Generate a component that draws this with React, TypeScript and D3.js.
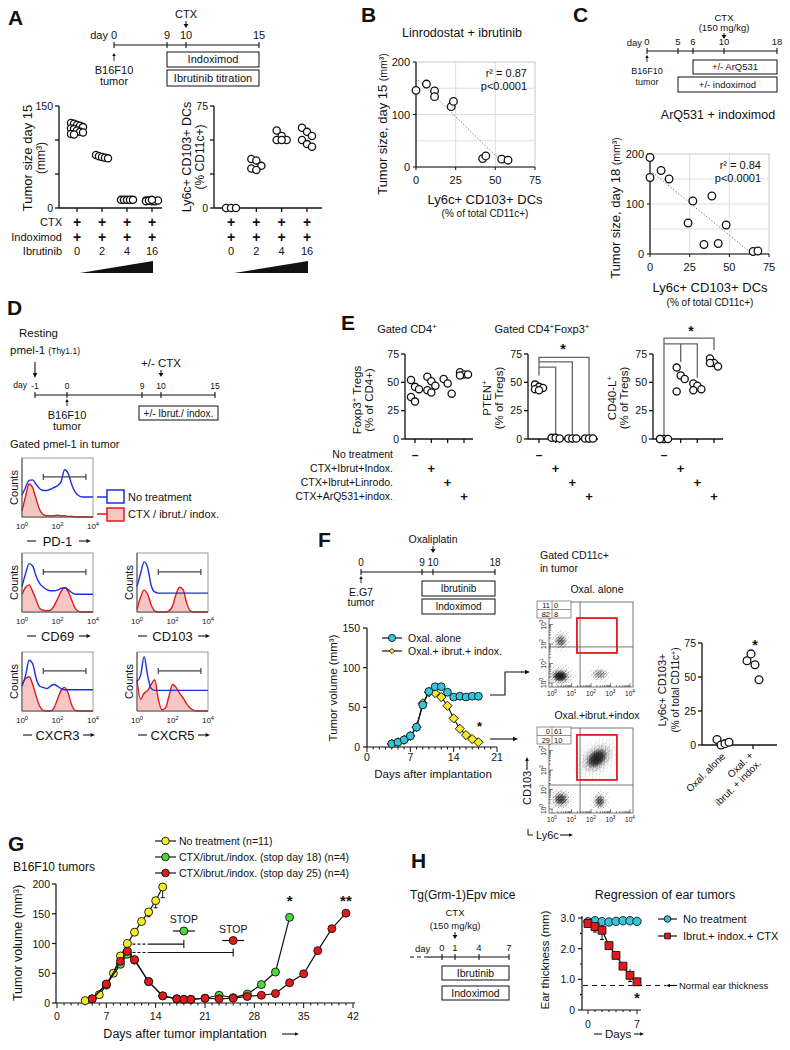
import * as d3 from 'd3'

const FONT = 'Liberation Sans, Arial, Helvetica, sans-serif'
const INK = '#111'
const BLUE = '#1d2fe0'
const RED = '#e3191c'
const PINK = '#f6c6c4'
const CYAN = '#35c6dd'
const YELLOW = '#f6ec25'
const GREEN = '#46d83c'

// ---------- A: ibrutinib titration ----------
const timelineA = [0, 9, 10, 15]
const ibrutinibDoses = ['0', '2', '4', '16']
const treatmentRowsA = ['CTX', 'Indoximod', 'Ibrutinib']
const tumorSizeDay15 = [
  [125, 124, 122, 121, 119, 117, 116, 114, 112, 111, 109, 108],
  [78, 76, 75, 74, 73],
  [12, 12, 12, 12, 12],
  [11, 11, 10, 10, 11, 10, 11, 12],
]
const dcPercentA = [
  [0, 0, 0],
  [36, 35, 31, 29, 28],
  [57, 53, 50, 50, 50],
  [59, 56, 53, 50, 47, 45],
]

// ---------- B: linrodostat + ibrutinib ----------
const linroDC = [0, 6.6, 11.7, 11.7, 22.2, 23.6, 42, 44, 54, 58]
const linroTumor = [146, 158, 145, 134, 115, 125, 16, 21, 15, 13]

// ---------- C: ArQ531 + indoximod ----------
const timelineC = [0, 5, 6, 10, 18]
const arqDC = [0, 0, 7, 12, 27, 39, 24, 48, 34, 43, 65, 68]
const arqTumor = [193, 153, 167, 150, 106, 116, 62, 58, 19, 21, 5, 6]

// ---------- D: pmel-1 histograms ----------
const timelineD = [-1, 0, 9, 10, 15]
const histBins = [0, 0.2, 0.4, 0.6, 0.8, 1, 1.2, 1.4, 1.6, 1.8, 2, 2.2, 2.4, 2.6, 2.8, 3, 3.2, 3.4, 3.6, 3.8, 4]
const histMarkers = ['PD-1', 'CD69', 'CD103', 'CXCR3', 'CXCR5']
const pd1Blue = [0.37, 0.5, 0.62, 0.63, 0.55, 0.48, 0.45, 0.45, 0.47, 0.5, 0.53, 0.6, 0.8, 0.74, 0.55, 0.42, 0.36, 0.34, 0.34, 0.34, 0.34]
const pd1Red = [0.1, 0.35, 0.56, 0.5, 0.3, 0.12, 0.04, 0.02, 0.02, 0.02, 0.03, 0.02, 0.02, 0.01, 0.01, 0, 0, 0, 0, 0, 0]
const cd69Blue = [0.43, 0.65, 0.82, 0.78, 0.6, 0.48, 0.42, 0.38, 0.36, 0.36, 0.37, 0.4, 0.41, 0.38, 0.33, 0.3, 0.3, 0.3, 0.3, 0.3, 0.3]
const cd69Red = [0.3, 0.42, 0.46, 0.35, 0.2, 0.06, 0.03, 0.02, 0.03, 0.1, 0.22, 0.35, 0.41, 0.35, 0.2, 0.06, 0.01, 0, 0, 0, 0]
const cd103Blue = [0.43, 0.65, 0.85, 0.75, 0.45, 0.34, 0.32, 0.32, 0.32, 0.32, 0.32, 0.32, 0.32, 0.32, 0.32, 0.32, 0.32, 0.32, 0.32, 0.32, 0.32]
const cd103Red = [0.05, 0.25, 0.37, 0.3, 0.12, 0.02, 0, 0, 0, 0.02, 0.1, 0.3, 0.42, 0.38, 0.15, 0.02, 0, 0, 0, 0, 0]
const cxcr3Blue = [0.42, 0.6, 0.86, 0.8, 0.55, 0.42, 0.4, 0.38, 0.42, 0.45, 0.42, 0.38, 0.36, 0.36, 0.36, 0.36, 0.36, 0.36, 0.36, 0.36, 0.36]
const cxcr3Red = [0.45, 0.55, 0.58, 0.45, 0.25, 0.08, 0.01, 0, 0, 0.05, 0.2, 0.35, 0.4, 0.3, 0.1, 0.01, 0, 0, 0, 0, 0]
const cxcr5Blue = [0.5, 0.6, 0.92, 0.6, 0.38, 0.35, 0.35, 0.35, 0.35, 0.35, 0.35, 0.35, 0.35, 0.35, 0.35, 0.35, 0.35, 0.35, 0.35, 0.35, 0.35]
const cxcr5Red = [0.53, 0.2, 0.3, 0.35, 0.45, 0.53, 0.2, 0.02, 0.05, 0.25, 0.45, 0.4, 0.3, 0.22, 0.12, 0.05, 0.01, 0, 0, 0, 0]
const histBlue = [pd1Blue, cd69Blue, cd103Blue, cxcr3Blue, cxcr5Blue]
const histRed = [pd1Red, cd69Red, cd103Red, cxcr3Red, cxcr5Red]
const histGate = [1.2, 3.6]

// ---------- E: Treg phenotypes ----------
const treatmentsE = ['No treatment', 'CTX+Ibrut+Indox.', 'CTX+Ibrut+Linrodo.', 'CTX+ArQ531+indox.']
const foxp3Tregs = [[52, 46, 44, 37, 33], [55, 51, 47, 43, 41], [53, 49, 40], [59, 57, 57, 56]]
const ptenTregs = [[48, 46, 45, 44, 43], [1, 1, 0.5], [0.5, 0.5, 0.5], [0.5, 0.5, 0.5]]
const cd40lTregs = [[0, 0, 0, 0], [63, 56, 53, 42], [49, 47, 44, 43], [71, 67, 64, 67]]

// ---------- F: E.G7 oxaliplatin ----------
const timelineF = [0, 9, 10, 18]
const oxalDays = [4, 5, 6, 7, 8, 9, 10, 11, 12, 13, 14, 15, 16, 17, 18]
const oxalAlone = [4, 6, 9, 14, 25, 53, 70, 76, 76, 69, 63, 64, 63, 64, 64]
const oxalCombo = [4, 6, 9, 14, 25, 55, 69, 68, 63, 52, 36, 23, 15, 10, 6]
const quadAlone = ['11', '0', '82', '8']
const quadCombo = ['0', '61', '29', '10']
// clusters: Ly6c decade, CD103 decade, radii (decades), angle, density
const clustersAlone = [
  { ly6c: 0.45, cd103: 2.15, rx: 0.38, ry: 0.42, angle: 0, dens: 0.9, core: 0.45 },
  { ly6c: 0.42, cd103: 0.35, rx: 0.6, ry: 0.45, angle: 0, dens: 1, core: 1 },
  { ly6c: 2.45, cd103: 0.45, rx: 0.45, ry: 0.32, angle: 0, dens: 0.75, core: 0.25 },
]
const clustersCombo = [
  { ly6c: 2.3, cd103: 2.6, rx: 0.95, ry: 0.65, angle: -40, dens: 1, core: 0.95 },
  { ly6c: 0.45, cd103: 0.5, rx: 0.5, ry: 0.47, angle: 0, dens: 1, core: 0.7 },
  { ly6c: 2.45, cd103: 0.4, rx: 0.36, ry: 0.44, angle: 0, dens: 0.9, core: 0.6 },
]
const gateAlone = [1.28, 3.33, 1.54, 3.33]
const gateCombo = [1.28, 3.33, 1.49, 3.8]
const quadLinesAlone = [1.44, 1.85]
const quadLinesCombo = [1.44, 1.23]
const dcGroupsF = ['Oxal. alone', 'Oxal. + ibrut. + indox.']
const dcOxal = [[4, 0, 1, 2], [62, 67, 59, 48]]

// ---------- G: B16F10 regrowth ----------
const noTreatDays = [4, 6, 7, 8, 9, 10, 11, 12, 13, 14, 15]
const noTreatVol = [4, 14, 30, 50, 79, 100, 119, 137, 153, 172, 195]
const noTreatErr = [0, 0, 0, 0, 0, 0, 0, 0, 8, 12, 18]
const stop18Days = [5, 7, 9, 10, 11, 13, 15, 17, 18, 19, 21, 23, 25, 27, 29, 31, 33]
const stop18Vol = [7, 31, 65, 82, 72, 36, 12, 7, 6, 6, 8, 13, 9, 15, 31, 52, 144]
const stop25Days = [5, 7, 9, 10, 11, 13, 15, 17, 18, 19, 21, 23, 25, 27, 29, 31, 33, 35, 37, 39, 41]
const stop25Vol = [7, 32, 70, 87, 73, 36, 12, 7, 6, 6, 8, 7, 8, 11, 13, 16, 34, 49, 88, 125, 151]
const stopDays = [18, 25]
const stopMarkerVol = [121, 105]
const stopBracketVol = [99, 85]

// ---------- H: ear tumors ----------
const timelineH = [0, 1, 4, 7]
const earDays = [0, 1, 2, 3, 4, 5, 6, 7]
const earNoTreat = [2.88, 2.91, 2.88, 2.87, 2.89, 2.91, 2.91, 2.89]
const earCombo = [2.82, 2.72, 2.6, 2.1, 1.78, 1.43, 1.13, 0.92]
const earComboErr = [0.1, 0.18, 0.3, 0.08, 0.1, 0.08, 0.2, 0.1]
const normalEar = 0.8

// ---------- helpers ----------
function Letter({ x, y, t }: any) {
  return <text x={x} y={y} fontSize={21} fontWeight="bold">{t}</text>
}

function VLabel({ cx, cy, fs = 12, children }: any) {
  return (
    <text transform={`translate(${cx + fs * 0.35},${cy}) rotate(-90)`} textAnchor="middle" fontSize={fs}>
      {children}
    </text>
  )
}

function DownArrow({ x, y1, y2 }: any) {
  return (
    <g>
      <line x1={x} x2={x} y1={y1} y2={y2 - 3} stroke={INK} strokeWidth={1} />
      <path d={`M${x - 2.5},${y2 - 4}L${x + 2.5},${y2 - 4}L${x},${y2}Z`} fill={INK} />
    </g>
  )
}

function UpArrow({ x, y1, y2 }: any) {
  return (
    <g>
      <line x1={x} x2={x} y1={y1} y2={y2 + 2} stroke={INK} strokeWidth={0.9} />
      <path d={`M${x - 1.8},${y2 + 3}L${x + 1.8},${y2 + 3}L${x},${y2}Z`} fill={INK} />
    </g>
  )
}

function ArrowLine({ x1, y1, x2, y2, head = 5, sw = 1.1 }: any) {
  const a = Math.atan2(y2 - y1, x2 - x1)
  const bx = x2 - head * Math.cos(a)
  const by = y2 - head * Math.sin(a)
  const px = (head / 2.2) * Math.sin(a)
  const py = (head / 2.2) * Math.cos(a)
  return (
    <g>
      <line x1={x1} y1={y1} x2={bx} y2={by} stroke={INK} strokeWidth={sw} />
      <path d={`M${x2},${y2}L${bx + px},${by - py}L${bx - px},${by + py}Z`} fill={INK} />
    </g>
  )
}

function Box({ x1, x2, y, h, label, fs = 11 }: any) {
  return (
    <g>
      <rect x={x1} y={y} width={x2 - x1} height={h} fill="#fff" stroke={INK} strokeWidth={1} />
      <text x={(x1 + x2) / 2} y={y + h / 2 + fs * 0.36} textAnchor="middle" fontSize={fs}>{label}</text>
    </g>
  )
}

function Timeline({ scale, days, y, fs = 11, tick = 3, dayLabel = true }: any) {
  const lo = d3.min(days) as number
  const hi = d3.max(days) as number
  return (
    <g>
      <line x1={scale(lo)} x2={scale(hi)} y1={y} y2={y} stroke={INK} strokeWidth={1.1} />
      {days.map((d: number) => (
        <g key={d}>
          <line x1={scale(d)} x2={scale(d)} y1={y - tick} y2={y + tick} stroke={INK} strokeWidth={1.1} />
          {dayLabel && <text x={scale(d)} y={y - 6} textAnchor="middle" fontSize={fs}>{d}</text>}
        </g>
      ))}
    </g>
  )
}

function DotPlot({ axisX, xEnd, y, ticks, labels, gx, groups, data, r = 3.6, spread = 4, cols = 3, fs = 10.5 }: any) {
  const [bottom, top] = y.range()
  return (
    <g>
      <line x1={axisX} x2={axisX} y1={top} y2={bottom} stroke={INK} strokeWidth={1.3} />
      <line x1={axisX} x2={xEnd} y1={bottom} y2={bottom} stroke={INK} strokeWidth={1.3} />
      {ticks.map((t: number) => (
        <line key={t} x1={axisX - 4} x2={axisX} y1={y(t)} y2={y(t)} stroke={INK} strokeWidth={1.3} />
      ))}
      {labels.map((t: number) => (
        <text key={t} x={axisX - 6} y={y(t) + fs * 0.36} textAnchor="end" fontSize={fs}>{t}</text>
      ))}
      {groups.map((g: string) => (
        <line key={g} x1={gx(g)} x2={gx(g)} y1={bottom} y2={bottom + 4} stroke={INK} strokeWidth={1.3} />
      ))}
      {data.map((vals: number[], gi: number) =>
        vals.map((v, i) => (
          <circle
            key={`${gi}-${i}`}
            cx={gx(groups[gi]) + ((i % cols) - (cols - 1) / 2) * spread}
            cy={y(v)}
            r={r}
            fill="#fff"
            stroke={INK}
            strokeWidth={1.3}
          />
        ))
      )}
    </g>
  )
}

function fitLine(xs: number[], ys: number[]) {
  const mx = d3.mean(xs) as number
  const my = d3.mean(ys) as number
  const sxy = d3.sum(xs.map((x, i) => (x - mx) * (ys[i] - my)))
  const sxx = d3.sum(xs.map((x) => (x - mx) ** 2))
  const b = sxy / sxx
  return { a: my - b * mx, b }
}

function Scatter({ x, y, xs, ys, xTicks, yTicks, r2 }: any) {
  const [l, rr] = x.range()
  const [b, t] = y.range()
  const fit = fitLine(xs, ys)
  const xZero = -fit.a / fit.b
  return (
    <g>
      <rect x={l} y={t} width={rr - l} height={b - t} fill="none" stroke="#c8c8c8" />
      {[25, 50].map((v) => <line key={v} x1={x(v)} x2={x(v)} y1={t} y2={b} stroke="#dedede" />)}
      {[50, 100, 150].map((v) => <line key={v} x1={l} x2={rr} y1={y(v)} y2={y(v)} stroke="#dedede" />)}
      <line x1={l} x2={l} y1={t} y2={b} stroke={INK} strokeWidth={1.2} />
      <line x1={l} x2={rr} y1={b} y2={b} stroke={INK} strokeWidth={1.2} />
      {yTicks.map((v: number) => (
        <g key={v}>
          <line x1={l - 3} x2={l} y1={y(v)} y2={y(v)} stroke={INK} />
          <text x={l - 6} y={y(v) + 4} textAnchor="end" fontSize={11}>{v}</text>
        </g>
      ))}
      {xTicks.map((v: number) => (
        <g key={v}>
          <line x1={x(v)} x2={x(v)} y1={b} y2={b + 3} stroke={INK} />
          <text x={x(v)} y={b + 17} textAnchor="middle" fontSize={11}>{v}</text>
        </g>
      ))}
      <line x1={x(0)} y1={y(fit.a)} x2={x(xZero)} y2={y(0)} stroke="#777" strokeWidth={1} strokeDasharray="1.3,2" />
      {xs.map((v: number, i: number) => (
        <circle key={i} cx={x(v)} cy={y(ys[i])} r={3.8} fill="#fff" stroke={INK} strokeWidth={1.3} />
      ))}
      <text x={rr - 8} y={t + 15} textAnchor="end" fontSize={11}>r² = {r2}</text>
      <text x={rr - 8} y={t + 28} textAnchor="end" fontSize={11}>p&lt;0.0001</text>
    </g>
  )
}

function Pow({ x, y, e, fs = 8, anchor = 'middle', transform }: any) {
  return (
    <text x={x} y={y} fontSize={fs} textAnchor={anchor} transform={transform}>
      10<tspan dy={-3} fontSize={fs * 0.72}>{e}</tspan>
    </text>
  )
}

// ---------- panels ----------
function PanelA() {
  const tl = d3.scaleLinear().domain([0, 9, 10, 15]).range([114, 167, 186, 259])
  const yL = d3.scaleLinear().domain([0, 150]).range([208, 106])
  const yR = d3.scaleLinear().domain([0, 75]).range([208, 106])
  const xL = d3.scalePoint().domain(ibrutinibDoses).range([77, 152])
  const xR = d3.scalePoint().domain(ibrutinibDoses).range([231, 307])
  const rowY = [226, 241, 255]
  const rows = (gx: any) =>
    ibrutinibDoses.map((d) => (
      <g key={d}>
        <text x={gx(d)} y={rowY[0] + 1} textAnchor="middle" fontSize={14} fontWeight="bold">+</text>
        <text x={gx(d)} y={rowY[1] + 1} textAnchor="middle" fontSize={14} fontWeight="bold">+</text>
        <text x={gx(d)} y={rowY[2]} textAnchor="middle" fontSize={11}>{d}</text>
      </g>
    ))
  const wedge = (gx: any) => {
    const a = gx(ibrutinibDoses[0]) + 3
    const b = gx(ibrutinibDoses[3]) + 1
    return <path d={`M${a},273L${b},261L${b},273Z`} fill={INK} />
  }
  return (
    <g>
      <Letter x={8} y={25} t="A" />
      <text x={tl(10)} y={18} textAnchor="middle" fontSize={11}>CTX</text>
      <DownArrow x={tl(10)} y1={21} y2={28} />
      <text x={tl(0) - 6} y={39} textAnchor="end" fontSize={11}>day</text>
      <Timeline scale={tl} days={timelineA} y={45} />
      <UpArrow x={tl(0)} y1={61} y2={53} />
      <text x={tl(0)} y={74} textAnchor="middle" fontSize={11}>B16F10</text>
      <text x={tl(0)} y={85} textAnchor="middle" fontSize={11}>tumor</text>
      <Box x1={tl(9)} x2={tl(15)} y={52} h={15} label="Indoximod" />
      <Box x1={tl(9)} x2={tl(15)} y={70} h={16} label="Ibrutinib titration" />

      <DotPlot axisX={59} xEnd={162} y={yL} ticks={[0, 50, 100, 150]} labels={[0, 150]} gx={xL} groups={ibrutinibDoses} data={tumorSizeDay15} cols={5} spread={3} />
      <VLabel cx={27} cy={158} fs={13}>Tumor size day 15</VLabel>
      <VLabel cx={41} cy={158} fs={12}>(mm³)</VLabel>
      {treatmentRowsA.map((t, i) => (
        <text key={t} x={62} y={rowY[i]} textAnchor="end" fontSize={11}>{t}</text>
      ))}
      {rows(xL)}
      {wedge(xL)}

      <DotPlot axisX={214} xEnd={322} y={yR} ticks={[0, 25, 50, 75]} labels={[0, 75]} gx={xR} groups={ibrutinibDoses} data={dcPercentA} cols={3} spread={5} />
      <VLabel cx={187} cy={157} fs={12.5}>Ly6c+ CD103+ DCs</VLabel>
      <VLabel cx={200} cy={157} fs={12}>(% CD11c+)</VLabel>
      {rows(xR)}
      {wedge(xR)}
    </g>
  )
}

function PanelB() {
  const x = d3.scaleLinear().domain([0, 75]).range([416, 535])
  const y = d3.scaleLinear().domain([0, 200]).range([167, 62])
  return (
    <g>
      <Letter x={361} y={22} t="B" />
      <text x={462} y={37} textAnchor="middle" fontSize={12.5}>Linrodostat + ibrutinib</text>
      <Scatter x={x} y={y} xs={linroDC} ys={linroTumor} xTicks={[0, 25, 50, 75]} yTicks={[0, 100, 200]} r2="0.87" />
      <text transform="translate(387,124) rotate(-90)" textAnchor="middle" fontSize={13}>
        Tumor size, day 15 <tspan fontSize={10.5}>(mm³)</tspan>
      </text>
      <text x={485} y={204} textAnchor="middle" fontSize={13}>Ly6c+ CD103+ DCs</text>
      <text x={485} y={217} textAnchor="middle" fontSize={10}>(% of total CD11c+)</text>
    </g>
  )
}

function PanelC() {
  const tl = d3.scaleLinear().domain(timelineC).range([647, 678, 693, 724, 777])
  const x = d3.scaleLinear().domain([0, 75]).range([650, 769])
  const y = d3.scaleLinear().domain([0, 200]).range([254, 154])
  return (
    <g>
      <Letter x={573} y={22} t="C" />
      <text x={tl(10)} y={21} textAnchor="middle" fontSize={9.5}>CTX</text>
      <text x={tl(10)} y={31} textAnchor="middle" fontSize={9.5}>(150 mg/kg)</text>
      <DownArrow x={tl(10)} y1={33} y2={39} />
      <text x={tl(0) - 5} y={46} textAnchor="end" fontSize={9.5}>day</text>
      <Timeline scale={tl} days={timelineC} y={51} fs={9.5} />
      <UpArrow x={tl(0)} y1={62} y2={55} />
      <text x={tl(0)} y={74} textAnchor="middle" fontSize={9}>B16F10</text>
      <text x={tl(0)} y={85} textAnchor="middle" fontSize={9}>tumor</text>
      <Box x1={tl(6)} x2={tl(18)} y={60} h={14} label="+/- ArQ531" fs={9.5} />
      <Box x1={tl(5)} x2={tl(18)} y={77} h={15} label="+/- indoximod" fs={9.5} />
      <text x={718} y={119} textAnchor="middle" fontSize={12.5}>ArQ531 + indoximod</text>
      <Scatter x={x} y={y} xs={arqDC} ys={arqTumor} xTicks={[0, 25, 50, 75]} yTicks={[0, 100, 200]} r2="0.84" />
      <text transform="translate(620,208) rotate(-90)" textAnchor="middle" fontSize={13}>
        Tumor size, day 18 <tspan fontSize={10.5}>(mm³)</tspan>
      </text>
      <text x={710} y={292} textAnchor="middle" fontSize={13}>Ly6c+ CD103+ DCs</text>
      <text x={710} y={306} textAnchor="middle" fontSize={10}>(% of total CD11c+)</text>
    </g>
  )
}

function Histogram({ x, y, w, h, blue, red, name }: any) {
  const sx = d3.scaleLinear().domain([0, 4]).range([x, x + w])
  const sy = d3.scaleLinear().domain([0, 1]).range([y + h, y])
  const line = d3.line<number>().x((_, i) => sx(histBins[i])).y((v) => sy(v)).curve(d3.curveMonotoneX)
  const area = d3.area<number>().x((_, i) => sx(histBins[i])).y0(y + h).y1((v) => sy(v)).curve(d3.curveMonotoneX)
  const gy = sy(0.68)
  const half = name.length * 4.1
  const cx = x + w / 2
  const ly = y + h + 24
  return (
    <g>
      <rect x={x} y={y} width={w} height={h} fill="#fff" stroke="#9a9a9a" strokeWidth={1} />
      <path d={area(red) as string} fill={PINK} />
      <path d={line(red) as string} fill="none" stroke={RED} strokeWidth={1.4} />
      <path d={line(blue) as string} fill="none" stroke={BLUE} strokeWidth={1.4} />
      <line x1={x} x2={x} y1={y} y2={y + h} stroke="#555" />
      <line x1={x} x2={x + w} y1={y + h} y2={y + h} stroke="#555" />
      <line x1={sx(histGate[0])} x2={sx(histGate[1])} y1={gy} y2={gy} stroke="#444" strokeWidth={1.2} />
      <line x1={sx(histGate[0])} x2={sx(histGate[0])} y1={gy - 3} y2={gy + 3} stroke="#444" strokeWidth={1.2} />
      <line x1={sx(histGate[1])} x2={sx(histGate[1])} y1={gy - 3} y2={gy + 3} stroke="#444" strokeWidth={1.2} />
      {[0, 2, 4].map((e) => <Pow key={e} x={sx(e)} y={y + h + 12} e={e} fs={8} />)}
      <text x={cx} y={ly + 4.5} textAnchor="middle" fontSize={13}>{name}</text>
      <line x1={cx - half - 14} x2={cx - half - 5} y1={ly} y2={ly} stroke={INK} strokeWidth={1.1} />
      <ArrowLine x1={cx + half + 5} y1={ly} x2={cx + half + 17} y2={ly} head={4.5} />
      <VLabel cx={x - 8} cy={y + h / 2} fs={11}>Counts</VLabel>
    </g>
  )
}

function PanelD() {
  const tl = d3.scaleLinear().domain(timelineD).range([35, 67, 142, 161, 215])
  const layout = [
    { x: 22, y: 458 },
    { x: 22, y: 553 },
    { x: 137, y: 553 },
    { x: 22, y: 652 },
    { x: 137, y: 652 },
  ]
  return (
    <g>
      <Letter x={7} y={315} t="D" />
      <text x={19} y={337} fontSize={11.5}>Resting</text>
      <text x={10} y={354} fontSize={11.5}>pmel-1 <tspan fontSize={8.5}>(Thy1.1)</tspan></text>
      <ArrowLine x1={tl(-1)} y1={362} x2={tl(-1)} y2={378} head={5} />
      <text x={tl(10)} y={367} textAnchor="middle" fontSize={11.5}>+/- CTX</text>
      <DownArrow x={tl(10)} y1={370} y2={377} />
      <text x={tl(-1) - 8} y={388} textAnchor="end" fontSize={8.5}>day</text>
      <Timeline scale={tl} days={timelineD} y={395} fs={8.5} />
      <UpArrow x={tl(0)} y1={406} y2={399} />
      <text x={tl(0)} y={419} textAnchor="middle" fontSize={11}>B16F10</text>
      <text x={tl(0)} y={430} textAnchor="middle" fontSize={11}>tumor</text>
      <Box x1={139} x2={218} y={406} h={14} label="+/- Ibrut./ indox." fs={10} />
      <text x={10} y={448} fontSize={11}>Gated pmel-1 in tumor</text>
      {histMarkers.map((m, i) => (
        <Histogram key={m} x={layout[i].x} y={layout[i].y} w={71} h={59} blue={histBlue[i]} red={histRed[i]} name={m} />
      ))}
      <line x1={97} x2={107} y1={497} y2={497} stroke={BLUE} strokeWidth={1.5} />
      <rect x={107} y={490} width={17} height={13} fill="#fff" stroke={BLUE} strokeWidth={1.5} />
      <text x={128} y={501} fontSize={11}>No treatment</text>
      <line x1={97} x2={107} y1={514} y2={514} stroke={RED} strokeWidth={1.5} />
      <rect x={107} y={508} width={17} height={13} fill={PINK} stroke={RED} strokeWidth={1.5} />
      <text x={128} y={518} fontSize={11}>CTX / ibrut./ indox.</text>
    </g>
  )
}

function PanelE() {
  const y = d3.scaleLinear().domain([0, 75]).range([439, 354])
  const x1 = d3.scalePoint().domain(treatmentsE).range([415, 464])
  const x2 = d3.scalePoint().domain(treatmentsE).range([539, 589])
  const x3 = d3.scalePoint().domain(treatmentsE).range([664, 714])
  const rowY = [458, 472, 486, 500]
  const marks = (gx: any) =>
    treatmentsE.map((t, i) => (
      <text key={t} x={gx(t)} y={rowY[i] + 1} textAnchor="middle" fontSize={i === 0 ? 12 : 13} fontWeight="bold">
        {i === 0 ? '–' : '+'}
      </text>
    ))
  const br = { stroke: '#666', strokeWidth: 1.3, fill: 'none' }
  const g2 = (i: number) => x2(treatmentsE[i]) as number
  const g3 = (i: number) => x3(treatmentsE[i]) as number
  const tk = [0, 25, 50, 75]
  return (
    <g>
      <Letter x={341} y={330} t="E" />
      <text x={407} y={333} textAnchor="middle" fontSize={11}>Gated CD4<tspan dy={-4} fontSize={8}>+</tspan></text>
      <text x={542} y={333} textAnchor="middle" fontSize={11}>
        Gated CD4<tspan dy={-4} fontSize={8}>+</tspan><tspan dy={4}>Foxp3</tspan><tspan dy={-4} fontSize={8}>+</tspan>
      </text>
      {/* significance brackets */}
      <path d={`M${g2(0)},${y(56)}V${y(72)}H${g2(3)}V${y(3)}`} {...br} />
      <path d={`M${g2(0)},${y(68)}H${g2(2)}V${y(3)}`} {...br} />
      <path d={`M${g2(0)},${y(63.5)}H${g2(1)}V${y(3)}`} {...br} />
      <text x={563} y={354} textAnchor="middle" fontSize={14} fontWeight="bold">*</text>
      <path d={`M${g3(0)},${y(3)}V${y(89)}H${g3(3)}V${y(78.5)}`} {...br} />
      <path d={`M${g3(0)},${y(84)}H${g3(2)}V${y(54)}`} {...br} />
      <path d={`M${g3(1)},${y(84)}V${y(68)}`} {...br} />
      <text x={691} y={336} textAnchor="middle" fontSize={14} fontWeight="bold">*</text>

      <DotPlot axisX={405} xEnd={473} y={y} ticks={tk} labels={tk} gx={x1} groups={treatmentsE} data={foxp3Tregs} />
      <DotPlot axisX={528} xEnd={598} y={y} ticks={tk} labels={tk} gx={x2} groups={treatmentsE} data={ptenTregs} />
      <DotPlot axisX={653} xEnd={723} y={y} ticks={tk} labels={tk} gx={x3} groups={treatmentsE} data={cd40lTregs} />
      <VLabel cx={357} cy={400} fs={11.5}>Foxp3<tspan dy={-4} fontSize={8}>+</tspan><tspan dy={4}> Tregs</tspan></VLabel>
      <VLabel cx={369} cy={400} fs={11.5}>(% of CD4+)</VLabel>
      <VLabel cx={487} cy={398} fs={11.5}>PTEN<tspan dy={-4} fontSize={8}>+</tspan></VLabel>
      <VLabel cx={499} cy={398} fs={11.5}>(% of Tregs)</VLabel>
      <VLabel cx={612} cy={398} fs={11.5}>CD40-L<tspan dy={-4} fontSize={8}>+</tspan></VLabel>
      <VLabel cx={624} cy={398} fs={11.5}>(% of Tregs)</VLabel>
      {treatmentsE.map((t, i) => (
        <text key={t} x={393} y={rowY[i]} textAnchor="end" fontSize={10.5}>{t}</text>
      ))}
      {marks(x1)}
      {marks(x2)}
      {marks(x3)}
    </g>
  )
}

function FlowPlot({ x, y, w, h, clusters, quad, gate, lines }: any) {
  const sx = d3.scaleLog().domain([1, 1e4]).range([x + 3, x + w - 3])
  const sy = d3.scaleLog().domain([1, 1e4]).range([y + h - 4, y + 3])
  const ppd = (x + w - 3 - (x + 3)) / 4
  const minor = sx.ticks()
  const bx = x - 12
  const by = y - 1
  return (
    <g>
      <rect x={x} y={y} width={w} height={h} fill="#fff" stroke="#777" />
      {clusters.map((c: any, i: number) => {
        const cx = sx(10 ** c.ly6c)
        const cy = sy(10 ** c.cd103)
        const tr = `rotate(${c.angle},${cx},${cy})`
        return (
          <g key={i}>
            <ellipse cx={cx} cy={cy} rx={c.rx * ppd * 1.6} ry={c.ry * ppd * 1.6} fill="url(#stipSparse)" mask="url(#fadeMask)" opacity={c.dens * 0.8} transform={tr} />
            <ellipse cx={cx} cy={cy} rx={c.rx * ppd} ry={c.ry * ppd} fill="url(#stip)" mask="url(#fadeMask)" opacity={c.dens} transform={tr} />
            <ellipse cx={cx} cy={cy} rx={c.rx * ppd * 0.65} ry={c.ry * ppd * 0.65} fill="#111" mask="url(#fadeMask)" opacity={c.core} transform={tr} />
          </g>
        )
      })}
      <line x1={sx(10 ** lines[0])} x2={sx(10 ** lines[0])} y1={y} y2={y + h} stroke="#666" strokeWidth={0.9} />
      <line x1={x} x2={x + w} y1={sy(10 ** lines[1])} y2={sy(10 ** lines[1])} stroke="#666" strokeWidth={0.9} />
      <rect
        x={sx(10 ** gate[0])}
        y={sy(10 ** gate[3])}
        width={sx(10 ** gate[1]) - sx(10 ** gate[0])}
        height={sy(10 ** gate[2]) - sy(10 ** gate[3])}
        fill="none"
        stroke={RED}
        strokeWidth={1.8}
      />
      {minor.map((t, i) => {
        const major = Math.abs(Math.log10(t) - Math.round(Math.log10(t))) < 1e-6
        return (
          <g key={i}>
            <line x1={sx(t)} x2={sx(t)} y1={y + h} y2={y + h - (major ? 4 : 2)} stroke="#333" strokeWidth={0.6} />
            <line x1={x} x2={x + (major ? 4 : 2)} y1={sy(t)} y2={sy(t)} stroke="#333" strokeWidth={0.6} />
          </g>
        )
      })}
      {[0, 1, 2, 3, 4].map((e) => <Pow key={e} x={sx(10 ** e)} y={y + h + 9} e={e} fs={6.5} />)}
      {[0, 1, 2, 3].map((e) => (
        <Pow key={e} x={0} y={0} e={e} fs={6.5} transform={`translate(${x - 3},${sy(10 ** e)}) rotate(-90)`} />
      ))}
      <rect x={bx} y={by} width={34} height={17} fill="#fff" stroke="#777" strokeWidth={0.8} />
      <line x1={bx + 15} x2={bx + 15} y1={by} y2={by + 17} stroke="#777" strokeWidth={0.8} />
      <line x1={bx} x2={bx + 34} y1={by + 8.5} y2={by + 8.5} stroke="#777" strokeWidth={0.8} />
      <text x={bx + 13} y={by + 7} textAnchor="end" fontSize={7.5}>{quad[0]}</text>
      <text x={bx + 17} y={by + 7} fontSize={7.5}>{quad[1]}</text>
      <text x={bx + 13} y={by + 15.5} textAnchor="end" fontSize={7.5}>{quad[2]}</text>
      <text x={bx + 17} y={by + 15.5} fontSize={7.5}>{quad[3]}</text>
    </g>
  )
}

function PanelF() {
  const tl = d3.scaleLinear().domain(timelineF).range([361, 422, 433, 495])
  const x = d3.scaleLinear().domain([0, 21]).range([367, 497])
  const y = d3.scaleLinear().domain([0, 150]).range([747, 628])
  const line = d3.line<number>().x((_, i) => x(oxalDays[i])).y((v) => y(v))
  const diamond = d3.symbol().type(d3.symbolSquare).size(42)()
  const yd = d3.scaleLinear().domain([0, 75]).range([745, 643])
  const xd = d3.scalePoint().domain(dcGroupsF).range([723, 753])
  return (
    <g>
      <Letter x={318} y={547} t="F" />
      <text x={tl(10)} y={543} textAnchor="middle" fontSize={10.5}>Oxaliplatin</text>
      <DownArrow x={tl(10)} y1={546} y2={553} />
      <Timeline scale={tl} days={timelineF} y={572} fs={10} />
      <UpArrow x={tl(0)} y1={583} y2={576} />
      <text x={tl(0)} y={596} textAnchor="middle" fontSize={10.5}>E.G7</text>
      <text x={tl(0)} y={606} textAnchor="middle" fontSize={10.5}>tumor</text>
      <Box x1={tl(9)} x2={tl(18)} y={581} h={15} label="Ibrutinib" fs={10} />
      <Box x1={tl(9)} x2={tl(18)} y={599} h={15} label="Indoximod" fs={10} />

      <line x1={367} x2={367} y1={628} y2={747} stroke={INK} strokeWidth={1.2} />
      <line x1={367} x2={497} y1={747} y2={747} stroke={INK} strokeWidth={1.2} />
      {[0, 50, 100, 150].map((v) => (
        <g key={v}>
          <line x1={363} x2={367} y1={y(v)} y2={y(v)} stroke={INK} strokeWidth={1.2} />
          <text x={360} y={y(v) + 4} textAnchor="end" fontSize={10.5}>{v}</text>
        </g>
      ))}
      {d3.range(0, 22).map((d) => (
        <line key={d} x1={x(d)} x2={x(d)} y1={747} y2={747 + (d % 7 === 0 ? 5 : 2.5)} stroke={INK} strokeWidth={1} />
      ))}
      {[0, 7, 14, 21].map((d) => (
        <text key={d} x={x(d)} y={761} textAnchor="middle" fontSize={10.5}>{d}</text>
      ))}
      <text x={433} y={778} textAnchor="middle" fontSize={11.5}>Days after implantation</text>
      <VLabel cx={333} cy={688} fs={11.5}>Tumor volume (mm³)</VLabel>

      <path d={line(oxalCombo) as string} fill="none" stroke={INK} strokeWidth={1.2} />
      {oxalCombo.map((v, i) => (
        <path key={i} d={diamond as string} transform={`translate(${x(oxalDays[i])},${y(v)}) rotate(45)`} fill={YELLOW} stroke={INK} strokeWidth={0.9} />
      ))}
      <path d={line(oxalAlone) as string} fill="none" stroke={INK} strokeWidth={1.2} />
      {oxalAlone.map((v, i) => (
        <circle key={i} cx={x(oxalDays[i])} cy={y(v)} r={3.9} fill={CYAN} stroke={INK} strokeWidth={0.9} />
      ))}
      <text x={x(18) + 1} y={y(20)} textAnchor="middle" fontSize={13} fontWeight="bold">*</text>

      <line x1={382} x2={402} y1={638} y2={638} stroke={INK} strokeWidth={1.2} />
      <circle cx={392} cy={638} r={3.6} fill={CYAN} stroke={INK} strokeWidth={0.9} />
      <text x={408} y={642} fontSize={10.5}>Oxal. alone</text>
      <line x1={382} x2={402} y1={651} y2={651} stroke={INK} strokeWidth={1.2} />
      <path d={d3.symbol().type(d3.symbolSquare).size(14)() as string} transform="translate(392,651) rotate(45)" fill={YELLOW} stroke={INK} strokeWidth={0.8} />
      <text x={408} y={655} fontSize={10.5}>Oxal.+ ibrut.+ indox.</text>

      <path d="M490,695H505V672H522" fill="none" stroke={INK} strokeWidth={1.1} />
      <ArrowLine x1={521} y1={672} x2={530} y2={672} head={5} />
      <ArrowLine x1={490} y1={739} x2={518} y2={739} head={5} />

      <text x={540} y={559} fontSize={10.5}>Gated CD11c+</text>
      <text x={540} y={572} fontSize={10.5}>in tumor</text>
      <text x={597} y={593} textAnchor="middle" fontSize={10.5}>Oxal. alone</text>
      <FlowPlot x={549} y={602} w={84} h={85} clusters={clustersAlone} quad={quadAlone} gate={gateAlone} lines={quadLinesAlone} />
      <text x={597} y={719} textAnchor="middle" fontSize={10.5}>Oxal.+ibrut.+indox</text>
      <FlowPlot x={549} y={728} w={84} h={85} clusters={clustersCombo} quad={quadCombo} gate={gateCombo} lines={quadLinesCombo} />
      <path d="M528,829V835H533" fill="none" stroke={INK} strokeWidth={1} />
      <text x={536} y={839} fontSize={11}>Ly6c</text>
      <ArrowLine x1={560} y1={835} x2={573} y2={835} head={4} />
      <text transform="translate(531,805) rotate(-90)" fontSize={11}>CD103</text>
      <ArrowLine x1={527} y1={770} x2={527} y2={757} head={4} />

      <DotPlot axisX={702} xEnd={777} y={yd} ticks={[0, 25, 50, 75]} labels={[0, 25, 50, 75]} gx={xd} groups={dcGroupsF} data={dcOxal} cols={4} spread={4} r={3.9} />
      <text x={755} y={650} textAnchor="middle" fontSize={14} fontWeight="bold">*</text>
      <VLabel cx={662} cy={690} fs={11}>Ly6c+ CD103+</VLabel>
      <VLabel cx={675} cy={690} fs={10}>
        (% of total CD11c<tspan dy={-3} fontSize={7}>+</tspan><tspan dy={3}>)</tspan>
      </VLabel>
      <text transform="translate(726,757) rotate(-45)" textAnchor="end" fontSize={10}>Oxal. alone</text>
      <text transform="translate(754,756) rotate(-45)" textAnchor="end" fontSize={10}>
        <tspan x={0} dy={0}>Oxal. +</tspan>
        <tspan x={0} dy={11}>ibrut. + indox.</tspan>
      </text>
    </g>
  )
}

function PanelG() {
  const x = d3.scaleLinear().domain([0, 42]).range([57, 353])
  const y = d3.scaleLinear().domain([0, 200]).range([1003, 884])
  const mk = (days: number[]) => d3.line<number>().x((_, i) => x(days[i])).y((v) => y(v))
  const series = [
    { days: stop18Days, vals: stop18Vol, color: GREEN },
    { days: stop25Days, vals: stop25Vol, color: RED },
  ]
  const legend = [
    { label: 'No treatment (n=11)', color: YELLOW },
    { label: 'CTX/ibrut./indox. (stop day 18) (n=4)', color: GREEN },
    { label: 'CTX/ibrut./indox. (stop day 25) (n=4)', color: RED },
  ]
  return (
    <g>
      <Letter x={8} y={851} t="G" />
      {legend.map((l, i) => (
        <g key={l.label}>
          <line x1={155} x2={176} y1={841 + i * 16} y2={841 + i * 16} stroke={INK} strokeWidth={1.2} />
          <circle cx={165.5} cy={841 + i * 16} r={3.8} fill={l.color} stroke={INK} strokeWidth={0.9} />
          <text x={179} y={845 + i * 16} fontSize={10.5}>{l.label}</text>
        </g>
      ))}
      <text x={13} y={871} fontSize={12}>B16F10 tumors</text>
      <line x1={56} x2={56} y1={884} y2={1003} stroke={INK} strokeWidth={1.2} />
      <line x1={56} x2={355} y1={1003} y2={1003} stroke={INK} strokeWidth={1.2} />
      {[0, 50, 100, 150, 200].map((v) => (
        <g key={v}>
          <line x1={52} x2={56} y1={y(v)} y2={y(v)} stroke={INK} strokeWidth={1.2} />
          <text x={50} y={y(v) + 4} textAnchor="end" fontSize={10.5}>{v}</text>
        </g>
      ))}
      {d3.range(0, 43).map((d) => (
        <line key={d} x1={x(d)} x2={x(d)} y1={1003} y2={1003 + (d % 7 === 0 ? 5 : 2.5)} stroke={INK} strokeWidth={1} />
      ))}
      {[0, 7, 14, 21, 28, 35, 42].map((d) => (
        <text key={d} x={x(d)} y={1020} textAnchor="middle" fontSize={10.5}>{d}</text>
      ))}
      <text x={185} y={1038} textAnchor="middle" fontSize={12.5}>Days after tumor implantation</text>
      <ArrowLine x1={282} y1={1034} x2={299} y2={1034} head={4} />
      <VLabel cx={18} cy={943} fs={12.5}>Tumor volume (mm³)</VLabel>

      {/* treatment brackets */}
      {stopDays.map((d, i) => (
        <g key={d}>
          <line x1={x(10)} x2={x(13)} y1={y(stopBracketVol[i])} y2={y(stopBracketVol[i])} stroke={INK} strokeWidth={1.1} strokeDasharray="3,2" />
          <line x1={x(13)} x2={x(d)} y1={y(stopBracketVol[i])} y2={y(stopBracketVol[i])} stroke={INK} strokeWidth={1.1} />
          <line x1={x(d)} x2={x(d)} y1={y(stopBracketVol[i]) - 4} y2={y(stopBracketVol[i]) + 4} stroke={INK} strokeWidth={1.1} />
          <line x1={x(d) - 11} x2={x(d) + 11} y1={y(stopMarkerVol[i])} y2={y(stopMarkerVol[i])} stroke={INK} strokeWidth={1.2} />
          <circle cx={x(d)} cy={y(stopMarkerVol[i])} r={4} fill={series[i].color} stroke={INK} strokeWidth={0.9} />
          <text x={x(d)} y={y(stopMarkerVol[i]) - 8} textAnchor="middle" fontSize={10.5}>STOP</text>
        </g>
      ))}

      <path d={mk(noTreatDays)(noTreatVol) as string} fill="none" stroke={INK} strokeWidth={1.2} />
      {noTreatVol.map((v, i) =>
        noTreatErr[i] > 0 ? (
          <g key={`e${i}`}>
            <line x1={x(noTreatDays[i])} x2={x(noTreatDays[i])} y1={y(v)} y2={y(v - noTreatErr[i])} stroke={INK} strokeWidth={1} />
            <line x1={x(noTreatDays[i]) - 2} x2={x(noTreatDays[i]) + 2} y1={y(v - noTreatErr[i])} y2={y(v - noTreatErr[i])} stroke={INK} strokeWidth={1} />
          </g>
        ) : null
      )}
      {noTreatVol.map((v, i) => (
        <circle key={i} cx={x(noTreatDays[i])} cy={y(v)} r={4} fill={YELLOW} stroke={INK} strokeWidth={0.9} />
      ))}
      {series.map((s) => (
        <g key={s.color}>
          <path d={mk(s.days)(s.vals) as string} fill="none" stroke={INK} strokeWidth={1.2} />
          {s.vals.map((v, i) => (
            <circle key={i} cx={x(s.days[i])} cy={y(v)} r={4} fill={s.color} stroke={INK} strokeWidth={0.9} />
          ))}
        </g>
      ))}
      <text x={x(33)} y={y(163)} textAnchor="middle" fontSize={15} fontWeight="bold">*</text>
      <text x={x(41)} y={y(163)} textAnchor="middle" fontSize={15} fontWeight="bold">**</text>
    </g>
  )
}

function PanelH() {
  const tl = d3.scaleLinear().domain(timelineH).range([442, 455, 479, 509])
  const x = d3.scaleLinear().domain([0, 7]).range([588, 637])
  const y = d3.scaleLinear().domain([0, 3]).range([1010, 918])
  const line = d3.line<number>().x((_, i) => x(earDays[i])).y((v) => y(v))
  const sq = d3.symbol().type(d3.symbolSquare).size(62)()
  return (
    <g>
      <Letter x={411} y={868} t="H" />
      <text x={410} y={899} fontSize={12}>Tg(Grm-1)Epv mice</text>
      <text x={tl(1)} y={916} textAnchor="middle" fontSize={9.5}>CTX</text>
      <text x={tl(1)} y={929} textAnchor="middle" fontSize={9.5}>(150 mg/kg)</text>
      <DownArrow x={tl(1)} y1={932} y2={939} />
      <text x={415} y={952} fontSize={9.5}>day</text>
      <line x1={410} x2={tl(0) - 14} y1={957} y2={957} stroke={INK} strokeWidth={1.1} strokeDasharray="4,3" />
      <line x1={tl(0) - 14} x2={tl(0)} y1={957} y2={957} stroke={INK} strokeWidth={1.1} />
      <Timeline scale={tl} days={timelineH} y={957} fs={9.5} />
      <Box x1={tl(0)} x2={tl(7)} y={966} h={14} label="Ibrutinib" fs={10.5} />
      <Box x1={tl(0)} x2={tl(7)} y={986} h={14} label="Indoximod" fs={10.5} />

      <text x={665} y={899} textAnchor="middle" fontSize={12.5}>Regression of ear tumors</text>
      <line x1={582} x2={582} y1={916} y2={1010} stroke={INK} strokeWidth={1.2} />
      <line x1={582} x2={641} y1={1010} y2={1010} stroke={INK} strokeWidth={1.2} />
      {[0, 0.5, 1, 1.5, 2, 2.5, 3].map((v) => (
        <line key={v} x1={v % 1 === 0 ? 578 : 580} x2={582} y1={y(v)} y2={y(v)} stroke={INK} strokeWidth={1.1} />
      ))}
      {[0, 1, 2, 3].map((v) => (
        <text key={v} x={575} y={y(v) + 4} textAnchor="end" fontSize={10.5}>{v === 0 ? '0' : v.toFixed(1)}</text>
      ))}
      {earDays.map((d) => (
        <line key={d} x1={x(d)} x2={x(d)} y1={1010} y2={1010 + (d % 7 === 0 ? 4 : 2)} stroke={INK} strokeWidth={1} />
      ))}
      {[0, 7].map((d) => (
        <text key={d} x={x(d)} y={1028} textAnchor="middle" fontSize={10.5}>{d}</text>
      ))}
      <line x1={594} x2={602} y1={1034} y2={1034} stroke={INK} strokeWidth={1.1} />
      <text x={605} y={1038} fontSize={11.5}>Days</text>
      <ArrowLine x1={634} y1={1034} x2={644} y2={1034} head={4} />
      <VLabel cx={545} cy={960} fs={11.5}>Ear thickness (mm)</VLabel>

      <line x1={583} x2={666} y1={y(normalEar)} y2={y(normalEar)} stroke={INK} strokeWidth={1} strokeDasharray="5,4" />
      <ArrowLine x1={677} y1={y(normalEar)} x2={666} y2={y(normalEar)} head={4} />
      <text x={679} y={y(normalEar) + 3.5} fontSize={9.5}>Normal ear thickness</text>

      <path d={line(earNoTreat) as string} fill="none" stroke={INK} strokeWidth={1.2} />
      <path d={line(earCombo) as string} fill="none" stroke={INK} strokeWidth={1.2} />
      {earCombo.map((v, i) => (
        <g key={`e${i}`}>
          <line x1={x(earDays[i])} x2={x(earDays[i])} y1={y(v - earComboErr[i])} y2={y(v + earComboErr[i])} stroke={INK} strokeWidth={1} />
          <line x1={x(earDays[i]) - 2} x2={x(earDays[i]) + 2} y1={y(v - earComboErr[i])} y2={y(v - earComboErr[i])} stroke={INK} strokeWidth={1} />
        </g>
      ))}
      {earNoTreat.map((v, i) => (
        <circle key={i} cx={x(earDays[i])} cy={y(v)} r={4.2} fill={CYAN} stroke={INK} strokeWidth={0.9} />
      ))}
      {earCombo.map((v, i) => (
        <path key={i} d={sq as string} transform={`translate(${x(earDays[i])},${y(v)})`} fill={RED} stroke={INK} strokeWidth={0.9} />
      ))}
      <text x={x(7)} y={1003} textAnchor="middle" fontSize={14} fontWeight="bold">*</text>

      <line x1={658} x2={677} y1={919} y2={919} stroke={INK} strokeWidth={1.2} />
      <circle cx={667.5} cy={919} r={3.3} fill={CYAN} stroke={INK} strokeWidth={0.9} />
      <text x={683} y={923} fontSize={11}>No treatment</text>
      <line x1={658} x2={677} y1={936} y2={936} stroke={INK} strokeWidth={1.2} />
      <path d={d3.symbol().type(d3.symbolSquare).size(32)() as string} transform="translate(667.5,936)" fill={RED} stroke={INK} strokeWidth={0.9} />
      <text x={683} y={940} fontSize={11}>Ibrut.+ indox.+ CTX</text>
    </g>
  )
}

export default function App() {
  return (
    <svg
      width={790}
      height={1050}
      viewBox="0 0 790 1050"
      style={{ position: 'absolute', left: 0, top: 0, background: '#fff' }}
      fontFamily={FONT}
      fill={INK}
    >
      <defs>
        <pattern id="stip" width={3} height={3} patternUnits="userSpaceOnUse">
          <circle cx={0.7} cy={0.8} r={0.6} fill="#111" />
          <circle cx={2.2} cy={1.7} r={0.6} fill="#111" />
          <circle cx={1.2} cy={2.6} r={0.55} fill="#111" />
        </pattern>
        <pattern id="stipSparse" width={5} height={5} patternUnits="userSpaceOnUse">
          <circle cx={0.8} cy={1.1} r={0.5} fill="#111" />
          <circle cx={3.4} cy={2.3} r={0.5} fill="#111" />
          <circle cx={1.9} cy={4.2} r={0.45} fill="#111" />
        </pattern>
        <radialGradient id="fadeGrad">
          <stop offset="0%" stopColor="#fff" />
          <stop offset="55%" stopColor="#ccc" />
          <stop offset="100%" stopColor="#000" />
        </radialGradient>
        <mask id="fadeMask" maskContentUnits="objectBoundingBox">
          <rect x={0} y={0} width={1} height={1} fill="url(#fadeGrad)" />
        </mask>
      </defs>
      <rect width={790} height={1050} fill="#fff" />
      <PanelA />
      <PanelB />
      <PanelC />
      <PanelD />
      <PanelE />
      <PanelF />
      <PanelG />
      <PanelH />
    </svg>
  )
}
